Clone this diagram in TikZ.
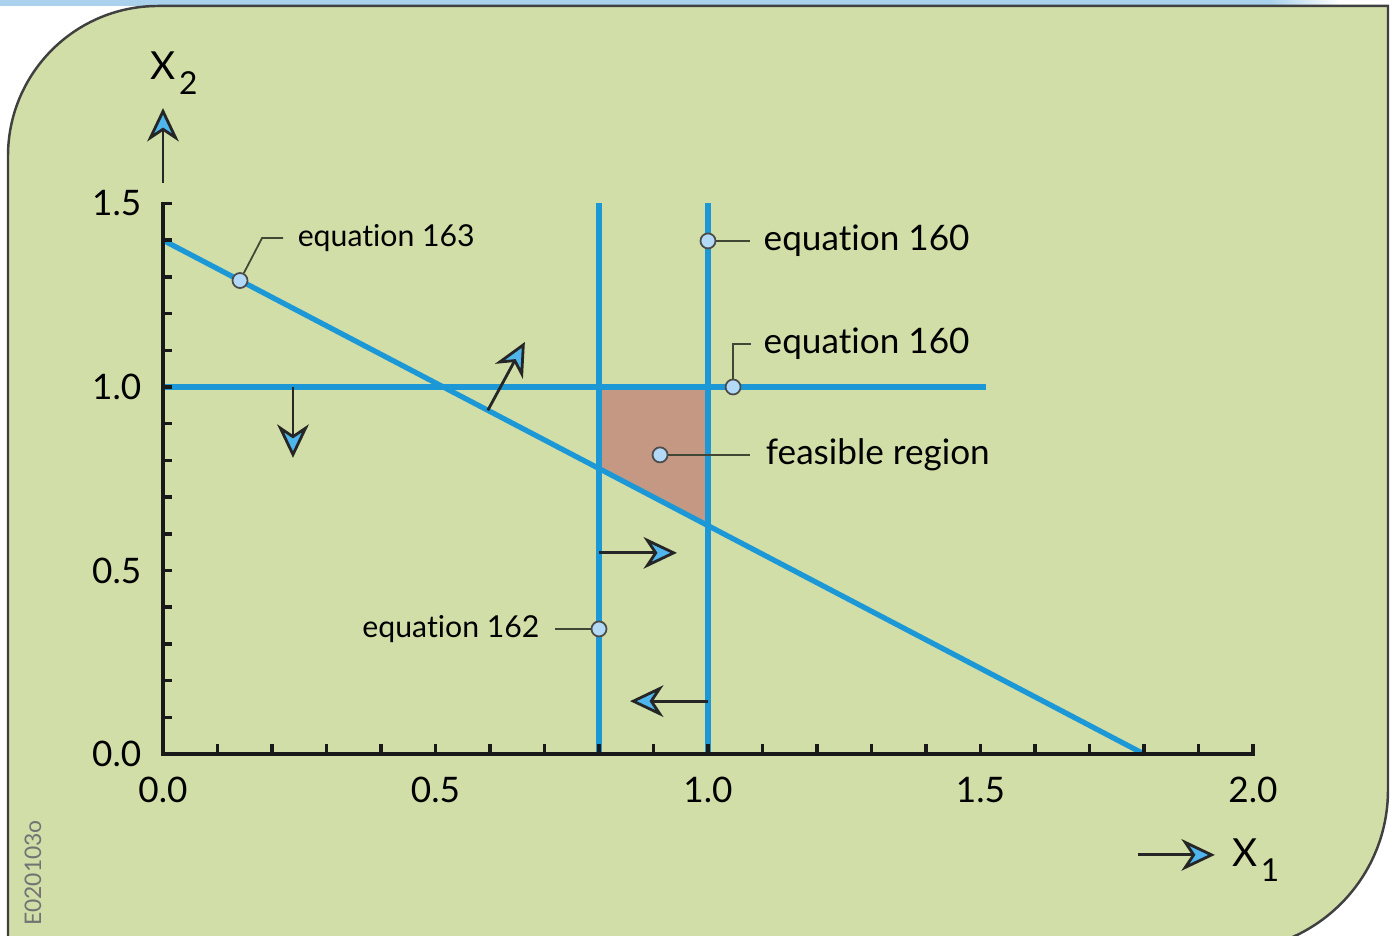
\documentclass[tikz,border=0pt]{standalone}
\usepackage{fontspec}
\setmainfont{Lato}[Ligatures=NoCommon]
\usetikzlibrary{arrows.meta, positioning}

\definecolor{panelgreen}{RGB}{209,222,168}
\definecolor{lineblue}{RGB}{28,152,214}
\definecolor{tipblue}{RGB}{78,182,236}
\definecolor{dotblue}{RGB}{178,218,246}
\definecolor{regionbrown}{RGB}{197,152,132}
\definecolor{stripblue}{RGB}{170,210,236}
\definecolor{leadergray}{RGB}{66,70,52}

\begin{document}
\begin{tikzpicture}[
    conline/.style={lineblue, line width=1.5pt},
    axisline/.style={black!90, line width=1pt},
    dirarrow/.style={-{Stealth[length=9.5pt, width=9pt, inset=3pt, fill=tipblue]}, line width=0.8pt, black!85},
    dot/.style={circle, draw=black!70, fill=dotblue, inner sep=0pt, minimum size=0.15cm, line width=0.5pt},
    leader/.style={leadergray, line width=0.5pt},
    biglabel/.style={inner sep=0pt, font=\fontsize{10pt}{12pt}\selectfont},
    smalllabel/.style={inner sep=0pt, font=\fontsize{8.6pt}{10pt}\selectfont},
    ticklabel/.style={inner sep=0pt, font=\fontsize{10pt}{12pt}\selectfont},
    axislabel/.style={inner sep=0pt, font=\fontsize{11pt}{13pt}\selectfont}
]
    \useasboundingbox (0,0) rectangle (13.93,9.36);

    % panel
    \fill[stripblue] (0,9.30) rectangle (12.7,9.36);
    \shade[left color=stripblue, right color=white] (12.7,9.30) rectangle (13.4,9.36);
    \draw[fill=panelgreen, draw=black!75, line width=0.7pt] (0.08,-0.2) -- (0.08,7.80)
        arc[start angle=180, end angle=90, radius=1.5] -- (13.88,9.30) -- (13.88,1.46)
        arc[start angle=0, end angle=-90, radius=1.61] -- cycle;
    \node[inner sep=0pt, rotate=90, text=black!55, font=\fontsize{6.5pt}{8pt}\selectfont] (code) at (0.33,0.63) {E020103o};

    \begin{scope}[shift={(1.63,1.82)}, x=5.45cm, y=3.67cm]
        % feasible region
        \fill[regionbrown] (0.8,1) -- (1,1) -- (1,0.6222) -- (0.8,0.7778) -- cycle;

        % constraint lines
        \draw[conline] (0,1.4) -- (1.8,0);
        \draw[conline] (0,1) -- (1.51,1);
        \draw[conline] (0.8,0) -- (0.8,1.5);
        \draw[conline] (1,0) -- (1,1.5);

        % direction arrows
        \coordinate (downfrom) at (0.2385,1);
        \coordinate (downto) at (0.2385,0.807);
        \coordinate (upfrom) at (0.596,0.9364);
        \coordinate (upto) at (0.664,1.1226);
        \coordinate (rightfrom) at (0.8,0.548);
        \coordinate (rightto) at (0.943,0.548);
        \coordinate (leftfrom) at (1,0.144);
        \coordinate (leftto) at (0.857,0.144);
        \draw[dirarrow] (downfrom) -- (downto);
        \draw[dirarrow] (upfrom) -- (upto);
        \draw[dirarrow] (rightfrom) -- (rightto);
        \draw[dirarrow] (leftfrom) -- (leftto);

        % axes
        \draw[axisline] ([xshift=0.09cm]0,1.5) -- (0,1.5) -- (0,0) -- (2,0) -- ([yshift=0.1cm]2,0);
        \foreach \i in {1,...,19}
            \draw[axisline] (\i/10,0) -- ++(0,0.1cm);
        \foreach \i in {1,...,14}
            \draw[axisline] (0,\i/10) -- ++(0.09cm,0);
        \foreach \v/\n in {0.0/a, 0.5/b, 1.0/c, 1.5/d, 2.0/e}
            \node[ticklabel] (xt\n) at ([yshift=-0.36cm]\v,0) {\v};
        \foreach \v/\n in {0.0/a, 0.5/b, 1.0/c, 1.5/d}
            \node[ticklabel, anchor=east] (yt\n) at ([xshift=-0.21cm]0,\v) {\v};

        % axis names
        \coordinate (xtwofrom) at (0,1.556);
        \coordinate (xtwoto) at (0,1.76);
        \coordinate (xonefrom) at (1.789,-0.275);
        \coordinate (xoneto) at (1.930,-0.275);
        \draw[dirarrow] (xtwofrom) -- (xtwoto);
        \draw[dirarrow] (xonefrom) -- (xoneto);
        \node[axislabel] (xtwo) at (0.02,1.855) {X\kern1pt\raisebox{-0.75ex}{\fontsize{9pt}{9pt}\selectfont 2}};
        \node[axislabel] (xone) at (2.005,-0.29) {X\kern1pt\raisebox{-0.75ex}{\fontsize{9pt}{9pt}\selectfont 1}};

        % labels
        \node[dot] (d163) at (0.1413,1.2901) {};
        \node[smalllabel, anchor=west] (t163) at (0.246,1.406) {equation 163};
        \draw[leader] (d163) -- ([xshift=-0.35cm]t163.west) -- ([xshift=-0.14cm]t163.west);

        \node[dot] (d160a) at (1,1.398) {};
        \node[biglabel, anchor=west] (t160a) at (1.101,1.398) {equation 160};
        \draw[leader] (d160a) -- ([xshift=-0.13cm]t160a.west);

        \node[dot] (d160b) at (1.046,1) {};
        \node[biglabel, anchor=west] (t160b) at (1.101,1.117) {equation 160};
        \draw[leader] (d160b) |- ([xshift=-0.12cm]t160b.west);

        \node[dot] (dfeas) at (0.912,0.815) {};
        \node[biglabel, anchor=west] (tfeas) at (1.105,0.815) {feasible region};
        \draw[leader] (dfeas) -- ([xshift=-0.15cm]tfeas.west);

        \node[dot] (d162) at (0.8,0.3406) {};
        \node[smalllabel, anchor=east] (t162) at (0.692,0.3406) {equation 162};
        \draw[leader] (d162) -- ([xshift=0.15cm]t162.east);
    \end{scope}
\end{tikzpicture}
\end{document}
